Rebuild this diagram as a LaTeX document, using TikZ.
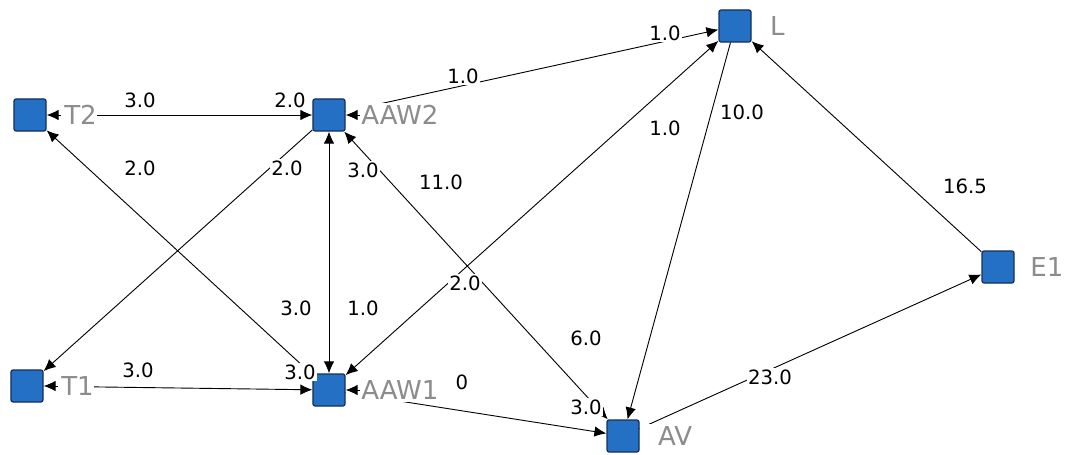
\documentclass[tikz,border=0pt]{standalone}
\usepackage{fontspec}
\setmainfont{DejaVu Sans}
\usepackage{tikz}
\usetikzlibrary{arrows.meta,positioning}

\definecolor{boxblue}{RGB}{36,112,196}
\definecolor{boxline}{RGB}{22,48,88}
\definecolor{namegray}{RGB}{140,140,140}

\tikzset{
	vtx/.style={rectangle,draw=boxline,fill=boxblue,line width=0.9pt,rounded corners=1.5pt,minimum size=0.8cm,inner sep=0pt},
	vname/.style={text=namegray,font=\fontsize{18.5}{18.5}\selectfont,fill=white,inner ysep=2pt,inner xsep=0pt,anchor=west},
	wt/.style={font=\fontsize{14}{14}\selectfont,fill=white,inner sep=1pt},
	>={Latex[length=8.5pt,width=7.5pt]},
	every path/.style={line width=0.65pt}
}

\begin{document}
\begin{tikzpicture}[x=0.025cm,y=-0.025cm]
	\useasboundingbox (0,0) rectangle (1065,454);

	\node[vtx] (T2) at (30,115) {};
	\node[vtx] (AAW2) at (329,115) {};
	\node[vtx] (L) at (735,26) {};
	\node[vtx] (E1) at (998,267) {};
	\node[vtx] (T1) at (27,386) {};
	\node[vtx] (AAW1) at (329,390) {};
	\node[vtx] (AV) at (623,436) {};

	\path [->] (T2) edge (AAW2);
	\path [->] (AAW2) edge (L);
	\path [<->] (AAW1) edge (L);
	\path [->] (L) edge (AV);
	\path [->] (E1) edge (L);
	\path [->] (AV) edge (E1);
	\path [->] (AAW1) edge (AV);
	\path [<->] (AAW2) edge (AV);
	\path [<->] (AAW2) edge (AAW1);
	\path [<->] (T2) edge (AAW1);
	\path [->] (AAW2) edge (T1);
	\path [->] (T1) edge (AAW1);

	% names
	\node[vname] (T2n) at (T2.east) {\hspace{0.43cm}T2};
	\node[vname] (AAW2n) at (AAW2.east) {\hspace{0.38cm}AAW2};
	\node[vname] (Ln) at (L.east) {\hspace{0.45cm}L};
	\node[vname] (E1n) at (E1.east) {\hspace{0.38cm}E1};
	\node[vname] (T1n) at (T1.east) {\hspace{0.43cm}T1};
	\node[vname] (AAW1n) at (AAW1.east) {\hspace{0.38cm}AAW1};
	\node[vname] (AVn) at (AV.east) {\hspace{0.45cm}AV};

	\draw [->] ([xshift=0.36cm]T2.east) -- (T2.east);
	\draw [->] ([xshift=0.36cm]AAW2.east) -- (AAW2.east);
	\draw [->] ([xshift=0.36cm]T1.east) -- (T1.east);
	\draw [->] ([xshift=0.36cm]AAW1.east) -- (AAW1.east);

	% weights
	\node[wt] (w1) at (140,100) {3.0};
	\node[wt] (w2) at (290,100) {2.0};
	\node[wt] (w3) at (463,76) {1.0};
	\node[wt] (w4) at (665,33) {1.0};
	\node[wt] (w5) at (140,168) {2.0};
	\node[wt] (w6) at (287,168) {2.0};
	\node[wt] (w7) at (363,170) {3.0};
	\node[wt] (w8) at (441,182) {11.0};
	\node[wt] (w9) at (665,128) {1.0};
	\node[wt] (w10) at (742,112) {10.0};
	\node[wt] (w11) at (965,186) {16.5};
	\node[wt] (w12) at (465,283) {2.0};
	\node[wt] (w13) at (296,308) {3.0};
	\node[wt] (w14) at (363,308) {1.0};
	\node[wt] (w15) at (586,338) {6.0};
	\node[wt] (w16) at (138,370) {3.0};
	\node[wt] (w17) at (300,372) {3.0};
	\node[wt] (w18) at (462,382) {0};
	\node[wt] (w19) at (586,407) {3.0};
	\node[wt] (w20) at (770,377) {23.0};
\end{tikzpicture}
\end{document}
